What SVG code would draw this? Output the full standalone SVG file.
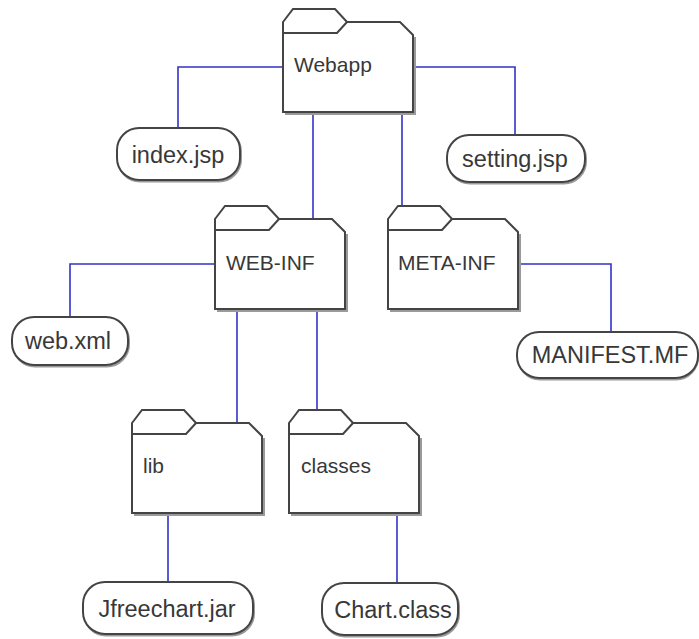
<svg xmlns="http://www.w3.org/2000/svg" xmlns:xlink="http://www.w3.org/1999/xlink" width="699" height="639" viewBox="0 0 699 639">
  <style>
    .folder { fill: #ffffff; stroke: #444444; stroke-width: 2; stroke-linejoin: miter; }
    .tabline { fill: none; stroke: #444444; stroke-width: 2; }
    .pill { fill: #ffffff; stroke: #444444; stroke-width: 2; }
    .shadow { fill: none; stroke: #9a9a9a; stroke-width: 2; }
    .link { fill: none; stroke: #3232c8; stroke-width: 1.6; }
    .flabel { font-family: "Liberation Sans", Arial, sans-serif; font-size: 21px; fill: #383838; }
    .plabel { font-family: "Liberation Sans", Arial, sans-serif; font-size: 23.5px; fill: #383838; text-anchor: middle; }
  </style>
  <defs>
    <!-- folder outline with tab, 130 x 103, with a soft offset edge below/right -->
    <g id="folder-shape">
      <path class="shadow" d="M132,28 L132,105 L2,105"/>
      <path class="folder" d="M0,13 L10,0 L52,0 L64,13 L117,13 L130,26 L130,103 L0,103 Z"/>
      <path class="tabline" d="M0,24 L54,24 L64,13"/>
    </g>
  </defs>
  <rect width="699" height="639" fill="#ffffff"/>

  <g id="connectors">
    <path class="link" d="M283,67 H178 V128"/>
    <path class="link" d="M413,67 H515 V135"/>
    <path class="link" d="M313,112 V218"/>
    <path class="link" d="M402,112 V206"/>
    <path class="link" d="M215,264 H70 V317"/>
    <path class="link" d="M518,264 H611 V332"/>
    <path class="link" d="M237,309 V423"/>
    <path class="link" d="M317,309 V410"/>
    <path class="link" d="M168,513 V582"/>
    <path class="link" d="M397,513 V583"/>
  </g>

  <g id="webapp">
    <use xlink:href="#folder-shape" x="283" y="9"/>
    <text class="flabel" x="294" y="72">Webapp</text>
  </g>
  <g id="web-inf">
    <use xlink:href="#folder-shape" x="215" y="206"/>
    <text class="flabel" x="226" y="270">WEB-INF</text>
  </g>
  <g id="meta-inf">
    <use xlink:href="#folder-shape" x="388" y="206"/>
    <text class="flabel" x="398" y="270">META-INF</text>
  </g>
  <g id="lib">
    <use xlink:href="#folder-shape" x="132" y="410"/>
    <text class="flabel" x="143" y="473">lib</text>
  </g>
  <g id="classes">
    <use xlink:href="#folder-shape" x="289" y="410"/>
    <text class="flabel" x="301" y="473">classes</text>
  </g>

  <g id="index-jsp">
    <rect class="shadow" x="118" y="129.5" width="123" height="52" rx="22"/>
    <rect class="pill" x="117" y="128" width="123" height="52" rx="22"/>
    <text class="plabel" x="178" y="163">index.jsp</text>
  </g>
  <g id="setting-jsp">
    <rect class="shadow" x="448" y="136.5" width="138" height="47" rx="22"/>
    <rect class="pill" x="447" y="135" width="138" height="47" rx="22"/>
    <text class="plabel" x="515" y="167">setting.jsp</text>
  </g>
  <g id="web-xml">
    <rect class="shadow" x="13" y="318.5" width="116" height="48" rx="22"/>
    <rect class="pill" x="12" y="317" width="116" height="48" rx="22"/>
    <text class="plabel" x="68" y="349">web.xml</text>
  </g>
  <g id="manifest-mf">
    <rect class="shadow" x="518" y="333.5" width="180" height="46" rx="22"/>
    <rect class="pill" x="517" y="332" width="181" height="46" rx="22"/>
    <text class="plabel" x="610" y="363">MANIFEST.MF</text>
  </g>
  <g id="jfreechart-jar">
    <rect class="shadow" x="84" y="583.5" width="170" height="52" rx="22"/>
    <rect class="pill" x="83" y="582" width="170" height="52" rx="22"/>
    <text class="plabel" x="167" y="617">Jfreechart.jar</text>
  </g>
  <g id="chart-class">
    <rect class="shadow" x="323" y="584.5" width="136" height="52" rx="22"/>
    <rect class="pill" x="322" y="583" width="136" height="52" rx="22"/>
    <text class="plabel" x="393" y="618">Chart.class</text>
  </g>
</svg>
